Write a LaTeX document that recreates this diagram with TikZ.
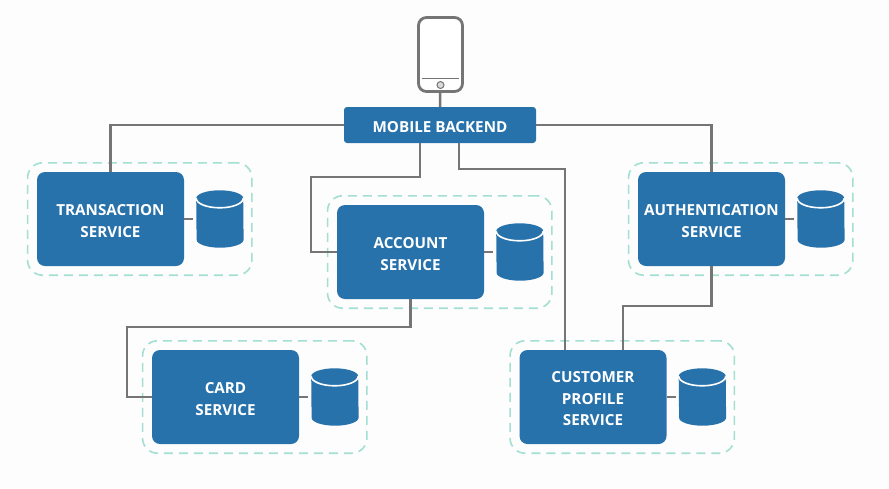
\documentclass[tikz,border=0pt]{standalone}
\usepackage{fontspec}
\setmainfont{Open Sans}
\usetikzlibrary{positioning,fit}
\definecolor{svcblue}{HTML}{2872AB}
\definecolor{linkgray}{HTML}{757575}
\definecolor{dashgreen}{HTML}{A3DFD2}
\definecolor{paper}{HTML}{FDFDFD}
\definecolor{knob}{HTML}{D9D9D9}
\newcommand{\toprule}{\rule{0pt}{15pt}}

\begin{document}
\begin{tikzpicture}[x=1pt,y=-1pt,node distance=12pt,
  service node/.style={rectangle,rounded corners=8pt,fill=svcblue,text=white,
    font=\bfseries\fontsize{15.2}{21.5}\selectfont,align=center,
    minimum width=147pt,minimum height=94pt,inner sep=0pt},
  backend node/.style={service node,rounded corners=3pt,minimum width=192pt,minimum height=36pt},
  db node/.style={rectangle,minimum width=47pt,minimum height=57pt,inner sep=0pt,right=12pt of #1},
  zone node/.style={rectangle,rounded corners=15pt,draw=dashgreen,
    line width=1.6pt,dash pattern=on 9pt off 6pt,inner xsep=8.75pt,inner ysep=9pt,xshift=-0.5pt},
  rim/.style={white,line width=1.6pt},
  link/.style={draw=linkgray,line width=2.5pt},
  dblink/.style={link,shorten >=3pt}]
  \useasboundingbox[fill=paper] (0,0) rectangle (889,488);

  \node[backend node] (backend) at (440,125) {\toprule MOBILE BACKEND};
  \node[service node] (transaction) at (110.5,219) {\toprule TRANSACTION\\SERVICE};
  \node[service node] (account) at (410.5,252) {\toprule ACCOUNT\\SERVICE};
  \node[service node] (authentication) at (711.5,219) {\toprule AUTHENTICATION\\SERVICE};
  \node[service node] (card) at (225.5,397) {\toprule CARD\\SERVICE};
  \node[service node] (customer) at (593,397) {\toprule CUSTOMER\\PROFILE\\SERVICE};

  % phone
  \node[rectangle,rounded corners=8pt,draw=linkgray,line width=2.8pt,fill=white,
    minimum width=44pt,minimum height=74pt] (phone) at (440.5,54.5) {};
  \coordinate (homeleft) at (422,78.5);
  \coordinate (homeright) at (459,78.5);
  \draw[linkgray,line width=1pt] (homeleft) -- (homeright);
  \node[circle,draw=linkgray,fill=knob,line width=1pt,minimum size=7pt,inner sep=0pt] (home) at (440.5,85) {};

  % databases and their zones
  \foreach \svc in {transaction,account,authentication,card,customer}{
    \node[db node=\svc] (\svc db) {};
    \fill[svcblue] ([yshift=-8pt]\svc db.north west)
      arc[start angle=180,end angle=360,x radius=23.5,y radius=8]
      -- ([yshift=8pt]\svc db.south east)
      arc[start angle=0,end angle=180,x radius=23.5,y radius=8] -- cycle;
    \draw[rim] ([yshift=-8pt]\svc db.north west)
      arc[start angle=180,end angle=0,x radius=23.5,y radius=9.5];
    \draw[dblink] (\svc) -- (\svc db);
    \node[zone node,fit=(\svc)(\svc db)] (\svc zone) {};
  }

  % connectors
  \draw[link] (phone) -- (backend);
  \draw[link] (backend.west) -| (transaction.north);
  \draw[link] (backend.east) -| (authentication.north);
  \draw[link] ([xshift=-20pt]backend.south) |- (311,177) |- (account.west);
  \draw[link] ([xshift=19pt]backend.south) |- (565,169) -- ([xshift=-28pt]customer.north);
  \draw[link] (account.south) |- (127,327) |- (card.west);
  \draw[link] (authentication.south) |- (623,306) -- ([xshift=30pt]customer.north);
\end{tikzpicture}
\end{document}
